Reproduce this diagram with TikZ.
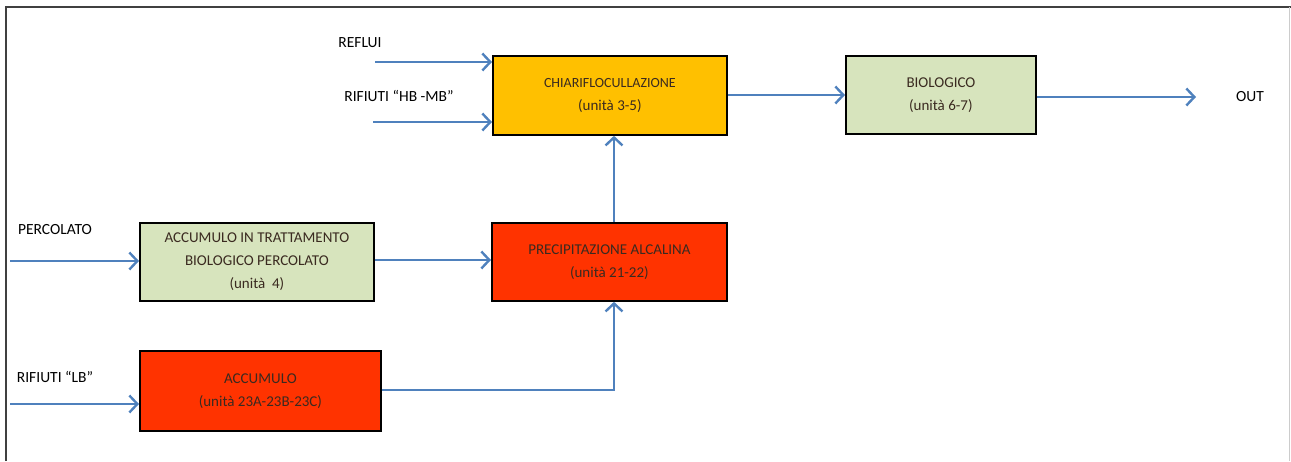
\documentclass[tikz,border=0pt]{standalone}
\usepackage{fontspec}
\setmainfont{Carlito}
\usetikzlibrary{arrows.meta}
\definecolor{arrblue}{HTML}{4F81BD}
\definecolor{orng}{HTML}{FFC000}
\definecolor{grn}{HTML}{D7E4BD}
\definecolor{rd}{HTML}{FF3300}
\definecolor{txt}{HTML}{3A2A20}
\tikzset{
  x=1pt,y=-1pt,
  boxst/.style={draw=black,line width=1.8pt,anchor=north west,inner sep=0pt,align=center,text=txt,font=\fontsize{15}{23}\selectfont},
  lbl/.style={font=\fontsize{15.5}{17}\selectfont,text=black},
  arr/.style={draw=arrblue,line width=2.4pt,-{Straight Barb[length=8pt,width=17pt,line width=2.4pt]}},
}
\begin{document}
\begin{tikzpicture}
\useasboundingbox (0,0) rectangle (1291,461);
\draw[line width=1.5pt,draw=black!75] (6,461) -- (6,7) -- (1291,7);
\draw[line width=1.2pt,draw=black!20] (1289.5,7) -- (1289.5,461);
% boxes
\node[boxst,fill=orng,minimum width=234pt,minimum height=79pt] (chi) at (492,55) {\fontsize{14}{23}\selectfont CHIARIFLOCULLAZIONE\\(unità 3-5)};
\node[boxst,fill=grn,minimum width=190pt,minimum height=78pt] (bio) at (845,55) {BIOLOGICO\\(unità 6-7)};
\node[boxst,fill=grn,minimum width=234pt,minimum height=78pt] (acct) at (139,222) {ACCUMULO IN TRATTAMENTO\\BIOLOGICO PERCOLATO\\(unità\ \ 4)};
\node[boxst,fill=rd,minimum width=235pt,minimum height=78pt] (prec) at (491,222) {PRECIPITAZIONE ALCALINA\\(unità 21-22)};
\node[boxst,fill=rd,minimum width=241pt,minimum height=80pt] (acc) at (139,350) {ACCUMULO\\(unità 23A-23B-23C)};
% labels
\node[lbl] (lrefl) at (360,43) {REFLUI};
\node[lbl] (lhb) at (399,96) {RIFIUTI “HB -MB”};
\node[lbl] (lperc) at (55,230) {PERCOLATO};
\node[lbl] (llb) at (55,377) {RIFIUTI “LB”};
\node[lbl] (lout) at (1250,97) {OUT};
% free ends
\coordinate (sRefl) at (375,62);
\coordinate (sHb) at (373,122);
\coordinate (sPerc) at (10,261);
\coordinate (sLb) at (10,404);
\coordinate (eOut) at (1196,97);
% connectors
\draw[arr] (sRefl) -- (sRefl -| chi.west);
\draw[arr] (sHb) -- (sHb -| chi.west);
\draw[arr] (chi.east |- 0,95) -- (bio.west |- 0,95);
\draw[arr] (bio.east |- eOut) -- (eOut);
\draw[arr] (sPerc) -- (sPerc -| acct.west);
\draw[arr] (acct.east |- 0,260) -- (prec.west |- 0,260);
\draw[arr] (prec.north -| 614,0) -- (chi.south -| 614,0);
\draw[arr] (sLb) -- (sLb -| acc.west);
\draw[arr] (acc.east |- 0,390) -- (614,390) -- (prec.south -| 614,0);
\end{tikzpicture}
\end{document}
